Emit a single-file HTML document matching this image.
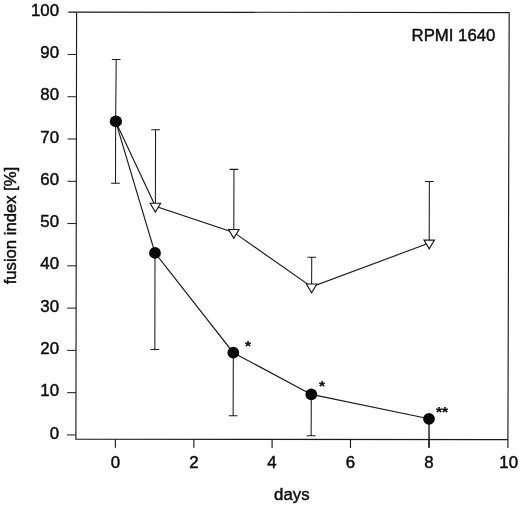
<!DOCTYPE html>
<html><head><meta charset="utf-8"><title>fusion index</title>
<style>html,body{margin:0;padding:0;background:#fff}svg{display:block}</style></head>
<body>
<svg width="520" height="506" viewBox="0 0 520 506">
<rect width="520" height="506" fill="#fff"/>
<g fill="none" stroke="#1a1a1a" stroke-width="1.15">
<path d="M68.30 12.08L509.20 12.60L507.88 447.90M76.60 12.10L75.90 439.10L507.90 439.60"/>
<path stroke-width="1" d="M67.01 434.93L75.91 434.95M67.08 392.66L75.98 392.68M67.15 350.38L76.05 350.40M67.21 308.11L76.11 308.12M67.28 265.83L76.18 265.85M67.35 223.55L76.25 223.57M67.42 181.28L76.32 181.30M67.49 139.00L76.39 139.02M67.56 96.73L76.46 96.75M67.63 54.45L76.53 54.47"/>
<path d="M115.40 439.15L115.38 447.75M193.90 439.24L193.88 447.84M272.10 439.33L272.08 447.93M350.50 439.42L350.48 448.02M429.00 439.51L428.98 448.11"/>
<path stroke-width="1.4" d="M429.00 418.80L429.05 447.6"/>
<path stroke-width="1.05" d="M115.65 121.40L115.50 183.20M111.15 183.20h8.7M155.00 252.90L154.85 349.40M150.50 349.40h8.7M233.30 352.70L233.15 415.70M228.80 415.70h8.7M311.30 394.40L311.15 435.70M306.80 435.70h8.7M115.65 121.40L116.20 59.50M111.85 59.50h8.7M155.40 206.20L155.55 129.70M151.20 129.70h8.7M233.80 232.40L233.95 169.35M229.60 169.35h8.7M311.60 286.90L311.75 257.20M307.40 257.20h8.7M429.20 243.00L429.35 181.50M425.00 181.50h8.7"/>
<path d="M115.65 121.40 L155.40 206.20 L233.80 232.40 L311.60 286.90 L429.20 243.00"/>
<path d="M115.65 121.40 L155.00 252.90 L233.30 352.70 L311.30 394.40 L429.00 418.80"/>
</g>
<path d="M150.20 203.27H160.60L155.40 212.07Z" fill="#fff" stroke="#1a1a1a" stroke-width="1.15"/>
<path d="M228.60 229.47H239.00L233.80 238.27Z" fill="#fff" stroke="#1a1a1a" stroke-width="1.15"/>
<path d="M306.40 283.97H316.80L311.60 292.77Z" fill="#fff" stroke="#1a1a1a" stroke-width="1.15"/>
<path d="M424.00 240.07H434.40L429.20 248.87Z" fill="#fff" stroke="#1a1a1a" stroke-width="1.15"/>
<ellipse cx="115.90" cy="121.40" rx="6.15" ry="5.9" fill="#0a0a0a"/>
<circle cx="155.00" cy="252.90" r="5.9" fill="#0a0a0a"/>
<circle cx="233.30" cy="352.70" r="5.9" fill="#0a0a0a"/>
<circle cx="311.30" cy="394.40" r="5.9" fill="#0a0a0a"/>
<circle cx="429.00" cy="418.80" r="5.9" fill="#0a0a0a"/>
<g font-family="Liberation Sans, Arial, sans-serif" font-size="16.5" fill="#0c0c0c" stroke="#0c0c0c" stroke-width="0.45" stroke-linejoin="round">
<text transform="translate(59.0 438.55) scale(1.02 1)" text-anchor="end">0</text>
<text transform="translate(59.0 396.28) scale(1.02 1)" text-anchor="end">10</text>
<text transform="translate(59.0 354.00) scale(1.02 1)" text-anchor="end">20</text>
<text transform="translate(59.0 311.73) scale(1.02 1)" text-anchor="end">30</text>
<text transform="translate(59.0 269.45) scale(1.02 1)" text-anchor="end">40</text>
<text transform="translate(59.0 227.17) scale(1.02 1)" text-anchor="end">50</text>
<text transform="translate(59.0 184.90) scale(1.02 1)" text-anchor="end">60</text>
<text transform="translate(59.0 142.62) scale(1.02 1)" text-anchor="end">70</text>
<text transform="translate(59.0 100.35) scale(1.02 1)" text-anchor="end">80</text>
<text transform="translate(59.0 58.07) scale(1.02 1)" text-anchor="end">90</text>
<text transform="translate(59.0 15.80) scale(1.02 1)" text-anchor="end">100</text>
<text transform="translate(115.30 467.8) scale(1.02 1)" text-anchor="middle">0</text>
<text transform="translate(193.80 467.8) scale(1.02 1)" text-anchor="middle">2</text>
<text transform="translate(272.00 467.8) scale(1.02 1)" text-anchor="middle">4</text>
<text transform="translate(350.40 467.8) scale(1.02 1)" text-anchor="middle">6</text>
<text transform="translate(428.90 467.8) scale(1.02 1)" text-anchor="middle">8</text>
<text transform="translate(508.70 467.8) scale(1.02 1)" text-anchor="middle">10</text>
<text transform="translate(291.8 499.5) scale(1.02 1)" text-anchor="middle">days</text>
<text transform="translate(495.3 41) scale(1.015 1)" text-anchor="end">RPMI 1640</text>
<text transform="translate(16.4 284.3) rotate(-90) scale(1 1.04)" font-size="16.65">fusion index [%]</text>
<g font-weight="bold" font-size="15.5" stroke-width="0.2">
<text x="245.1" y="351.1">*</text>
<text x="318.9" y="391">*</text>
<text x="435.9" y="417">**</text>
</g></g>
</svg>
</body></html>
